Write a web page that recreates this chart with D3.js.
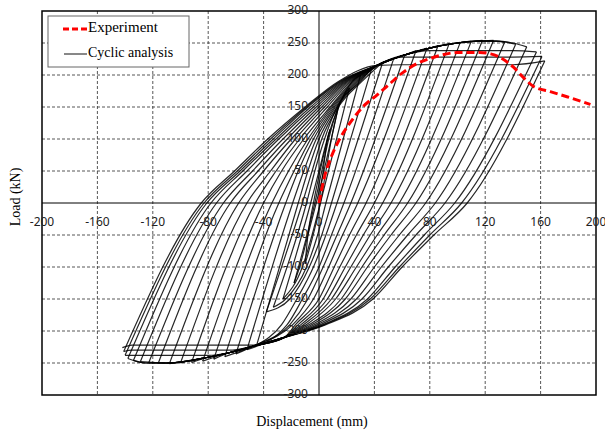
<!doctype html>
<html lang="en">
<head>
    <meta charset="utf-8">
    <title>Load - displacement hysteresis</title>
    <script src="https://cdnjs.cloudflare.com/ajax/libs/d3/7.8.5/d3.min.js"></script>
    <style>
        body { margin: 0; background: #fff; }
        svg { display: block; }
    </style>
</head>
<body>
<svg id="chart" width="605" height="435"></svg>
<script>
    // axis ticks
    const xTicks = [-200, -160, -120, -80, -40, 0, 40, 80, 120, 160, 200];
    const yTicks = [-300, -250, -200, -150, -100, -50, 0, 50, 100, 150, 200, 250, 300];

    // experiment (monotonic push) curve
    const expX = [0, 4, 9, 16, 24, 32, 42, 51, 60, 70, 82, 100, 116, 124, 131, 140, 148, 155, 167, 179, 196];
    const expF = [0, 41, 73, 104, 130, 151, 169, 186, 203, 217, 227, 235, 235, 233, 227, 213, 195, 182, 174, 166, 154];

    // cyclic analysis: one entry per cycle
    const posPeakX = [8, 14, 22, 30, 38, 46, 54, 62, 70, 78, 86, 94, 102, 110, 118, 126, 134, 142, 150, 157, 161, 163];
    const posPeakF = [115, 150, 180, 200, 210, 220, 226, 232, 238, 242, 246, 249, 251, 253, 254, 254, 251, 248, 244, 236, 229, 222];
    const negPeakX = [-10, -18, -26, -33, -38, -45, -52, -60, -68, -76, -84, -92, -100, -108, -116, -123, -129, -134, -138, -140, -141, -142];
    const negPeakF = [-95, -125, -150, -163, -170, -222, -229, -236, -240, -244, -247, -249, -250, -251, -250, -250, -248, -246, -243, -238, -232, -226];
    // zero-load crossings after unloading from the positive / negative peak
    const unloadZeroX = [-4, -2, 1, 5, 9, 13, 18, 23, 28, 34, 40, 46, 52, 58, 64, 70, 77, 84, 91, 98, 103, 107];
    const reloadZeroX = [1, -3, -6, -9, -12, -15, -19, -24, -29, -34, -40, -46, -52, -58, -64, -69, -74, -78, -81, -83, -85, -86];

    // reloading branch (towards positive peak): displacement at 50, 100, 150, 190 kN
    const reloadLevels = [50, 100, 150, 190];
    const reloadX = [
        [3, 6, null, null], [5, 9, null, null], [2, 7, 14, null], [0, 6, 14, 24],
        [-3, 4, 13, 30], [-5, 2, 14, 31], [-8, 0, 13, 29], [-11, -2, 12, 28],
        [-15, -4, 11, 27], [-18, -6, 10, 26], [-22, -8, 9, 25], [-27, -11, 8, 24],
        [-31, -14, 6, 23], [-35, -17, 4, 22], [-40, -20, 2, 21], [-44, -23, 0, 20],
        [-48, -26, -2, 19], [-52, -29, -4, 18], [-55, -31, -6, 17], [-57, -33, -8, 16],
        [-59, -35, -9, 15], [-61, -37, -10, 14]
    ];
    // unloading branch (towards negative peak): displacement at -50, -100, -150, -190 kN
    const unloadLevels = [-50, -100, -150, -190];
    const unloadX = [
        [-8, null, null, null], [-8, -14, null, null], [-5, -12, null, null], [-1, -9, -24, null],
        [2, -7, -21, null], [5, -4, -16, -27], [9, 0, -12, -23], [13, 3, -8, -21],
        [17, 7, -4, -19], [22, 11, 0, -17], [27, 15, 3, -15], [32, 19, 6, -13],
        [37, 23, 9, -11], [42, 27, 12, -9], [47, 31, 16, -7], [52, 35, 19, -5],
        [58, 40, 23, -3], [64, 45, 27, -1], [70, 50, 31, 1], [76, 55, 35, 3],
        [80, 58, 37, 4], [83, 60, 39, 5]
    ];
    // backbone the curves gather on
    const upperEnvX = [42, 60, 80, 100, 114, 128, 140];
    const upperEnvF = [215, 230, 242, 250, 253, 253, 250];
    const lowerEnvX = [-25, -48, -65, -80, -95, -110, -125, -135];
    const lowerEnvF = [-210, -224, -234, -241, -247, -250, -250, -248];
    // degraded plateau of the last cycles
    const posPlateauF = [null, null, null, null, null, null, null, null, null, null, null, null, null, null, null, null, null, null, null, 238, 228, 216];
    const negPlateauF = [null, null, null, null, null, null, null, null, null, null, null, null, null, null, null, null, null, null, null, -238, -230, -222];

    const svg = d3.select('#chart');
    const plotL = 42, plotR = 596, plotT = 11, plotB = 395;

    const x = d3.scaleLinear().domain([-200, 200]).range([plotL, plotR]);
    const y = d3.scaleLinear().domain([-300, 300]).range([plotB, plotT]);

    // grid
    svg.append('g').selectAll('line').data(xTicks.filter(d => d !== 0 && Math.abs(d) !== 200))
        .enter().append('line')
        .attr('x1', d => x(d)).attr('x2', d => x(d))
        .attr('y1', plotT).attr('y2', plotB)
        .attr('stroke', '#444').attr('stroke-width', 0.9).attr('stroke-dasharray', '3,2');
    svg.append('g').selectAll('line').data(yTicks.filter(d => d !== 0 && Math.abs(d) !== 300))
        .enter().append('line')
        .attr('x1', plotL).attr('x2', plotR)
        .attr('y1', d => y(d)).attr('y2', d => y(d))
        .attr('stroke', '#444').attr('stroke-width', 0.9).attr('stroke-dasharray', '3,2');

    // zero axes
    svg.append('line').attr('x1', plotL).attr('x2', plotR).attr('y1', y(0)).attr('y2', y(0))
        .attr('stroke', '#000').attr('stroke-width', 1);
    svg.append('line').attr('x1', x(0)).attr('x2', x(0)).attr('y1', plotT).attr('y2', plotB)
        .attr('stroke', '#000').attr('stroke-width', 1);

    const line = d3.line()
        .x(d => x(d[0]))
        .y(d => y(d[1]))
        .curve(d3.curveMonotoneX);

    function reloadBranch(i) {
        const pts = [];
        if (i === 0) {
            pts.push([0, 0]);
        } else {
            pts.push([negPeakX[i - 1], negPeakF[i - 1]]);
            pts.push([reloadZeroX[i - 1], 0]);
        }
        reloadLevels.forEach((lv, k) => {
            const v = reloadX[i][k];
            if (v !== null && lv < posPeakF[i] - 8 && v > pts[pts.length - 1][0] && v < posPeakX[i]) pts.push([v, lv]);
        });
        upperEnvX.forEach((ex, k) => {
            if (ex > pts[pts.length - 1][0] + 6 && ex < posPeakX[i] - 4) {
                const cap = posPlateauF[i];
                pts.push([ex, cap === null ? upperEnvF[k] : Math.min(upperEnvF[k], cap)]);
            }
        });
        pts.push([posPeakX[i], posPeakF[i]]);
        return pts;
    }

    function unloadBranch(i) {
        const pts = [[posPeakX[i], posPeakF[i]], [unloadZeroX[i], 0]];
        unloadLevels.forEach((lv, k) => {
            const v = unloadX[i][k];
            if (v !== null && lv > negPeakF[i] + 8 && v < pts[pts.length - 1][0] && v > negPeakX[i]) pts.push([v, lv]);
        });
        lowerEnvX.forEach((ex, k) => {
            if (ex < pts[pts.length - 1][0] - 6 && ex > negPeakX[i] + 4) {
                const cap = negPlateauF[i];
                pts.push([ex, cap === null ? lowerEnvF[k] : Math.max(lowerEnvF[k], cap)]);
            }
        });
        pts.push([negPeakX[i], negPeakF[i]]);
        return pts.reverse();
    }

    const branches = [];
    posPeakX.forEach((p, i) => {
        branches.push(reloadBranch(i));
        branches.push(unloadBranch(i));
    });

    svg.append('g').selectAll('path').data(branches)
        .enter().append('path')
        .attr('d', line)
        .attr('fill', 'none')
        .attr('stroke', '#000')
        .attr('stroke-opacity', 0.85)
        .attr('stroke-width', 1.2);

    // experiment
    const expLine = d3.line().x((d, i) => x(expX[i])).y((d, i) => y(expF[i])).curve(d3.curveMonotoneX);
    svg.append('path')
        .attr('d', expLine(expX))
        .attr('fill', 'none')
        .attr('stroke', '#ff0000')
        .attr('stroke-width', 3)
        .attr('stroke-dasharray', '8,4');

    // frame
    svg.append('rect')
        .attr('x', plotL).attr('y', plotT)
        .attr('width', plotR - plotL).attr('height', plotB - plotT)
        .attr('fill', 'none').attr('stroke', '#000').attr('stroke-width', 1.5);

    // tick labels along the zero lines
    svg.append('g').selectAll('text').data(xTicks)
        .enter().append('text')
        .attr('x', d => x(d)).attr('y', y(0) + 20)
        .attr('text-anchor', 'middle')
        .attr('dominant-baseline', 'middle')
        .style('font-family', '"Noto Sans", sans-serif').style('font-size', '12px').attr('fill', '#222')
        .text(d => d);
    svg.append('g').selectAll('text').data(yTicks)
        .enter().append('text')
        .attr('x', x(0) - 11).attr('y', d => y(d))
        .attr('text-anchor', 'end')
        .attr('dominant-baseline', 'middle')
        .style('font-family', '"Noto Sans", sans-serif').style('font-size', '12px').attr('fill', '#222')
        .text(d => d);

    // axis titles
    svg.append('text')
        .attr('x', 312).attr('y', 423)
        .attr('text-anchor', 'middle').attr('dominant-baseline', 'middle')
        .style('font-family', '"Liberation Serif", serif').style('font-size', '14px')
        .text('Displacement (mm)');
    svg.append('text')
        .attr('transform', 'translate(17,197) rotate(-90)')
        .attr('text-anchor', 'middle').attr('dominant-baseline', 'middle')
        .style('font-family', '"Liberation Serif", serif').style('font-size', '14px')
        .text('Load (kN)');

    // legend
    const legend = svg.append('g');
    legend.append('rect')
        .attr('x', 48).attr('y', 16).attr('width', 141).attr('height', 51)
        .attr('fill', '#fff').attr('stroke', '#666').attr('stroke-width', 1);
    legend.append('line').attr('x1', 63).attr('x2', 87).attr('y1', 29).attr('y2', 29)
        .attr('stroke', '#ff0000').attr('stroke-width', 3).attr('stroke-dasharray', '6,3');
    legend.append('line').attr('x1', 64).attr('x2', 87).attr('y1', 54).attr('y2', 54)
        .attr('stroke', '#111').attr('stroke-width', 1);
    legend.append('text').attr('x', 88).attr('y', 29).attr('dominant-baseline', 'middle')
        .style('font-family', '"Liberation Serif", serif').style('font-size', '15px')
        .text('Experiment');
    legend.append('text').attr('x', 88).attr('y', 54).attr('dominant-baseline', 'middle')
        .style('font-family', '"Liberation Serif", serif').style('font-size', '14px')
        .text('Cyclic analysis');
</script>
</body>
</html>
